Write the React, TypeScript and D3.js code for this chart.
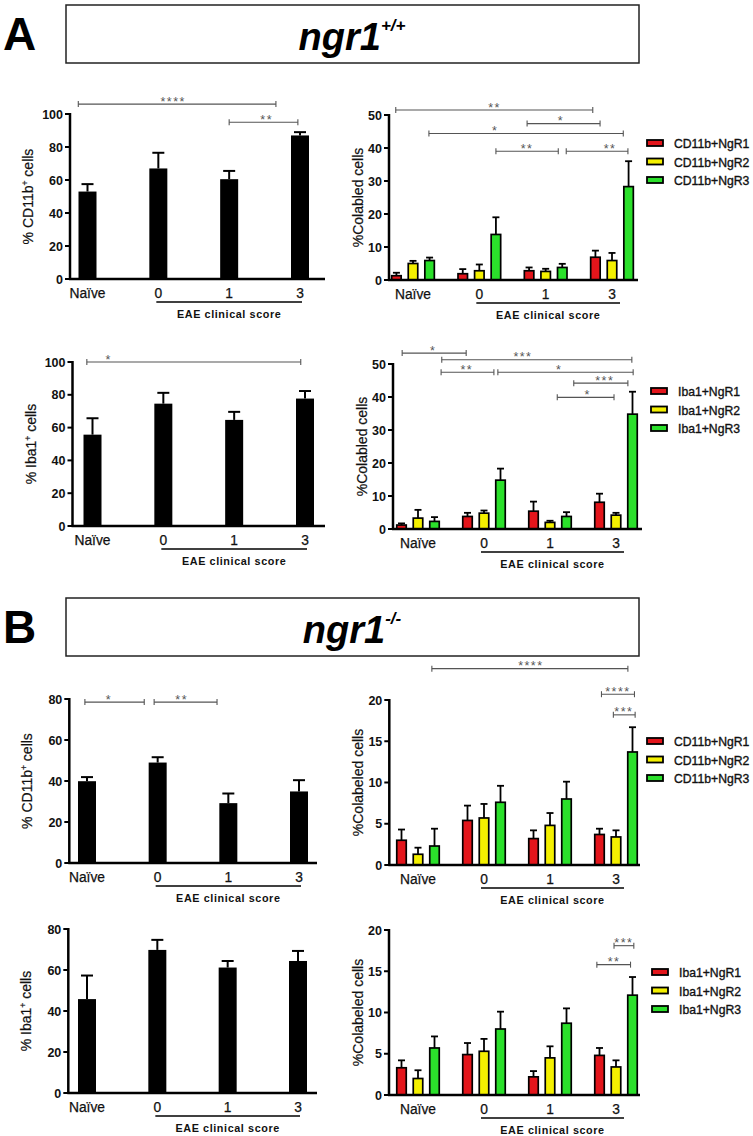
import React from "react";
import * as d3 from "d3";

// ---------- DATA ----------
const categories = ["Naïve", "0", "1", "3"];

// Panel A1: % CD11b+ cells (ngr1+/+)
const a1Mean = [53, 67, 60.5, 87];
const a1Top = [57.5, 76.5, 65.5, 89];
// Panel A3: % Iba1+ cells (ngr1+/+)
const a3Mean = [55.7, 74.6, 64.7, 77.7];
const a3Top = [65.7, 81.2, 69.6, 82.3];
// Panel B1: % CD11b+ cells (ngr1-/-)
const b1Mean = [39.9, 49, 29.2, 34.9];
const b1Top = [41.9, 51.6, 33.9, 40.4];
// Panel B3: % Iba1+ cells (ngr1-/-)
const b3Mean = [45.8, 69.8, 61.2, 64.4];
const b3Top = [57.3, 74.7, 64.4, 69.3];

// Panel A2: CD11b colabel (ngr1+/+)
const a2NgR1 = [1.3, 1.9, 2.8, 6.9];
const a2NgR1Top = [2.2, 3.3, 3.8, 8.9];
const a2NgR2 = [5.0, 2.8, 2.6, 5.9];
const a2NgR2Top = [5.8, 4.7, 3.4, 8.2];
const a2NgR3 = [5.9, 13.8, 3.8, 28.3];
const a2NgR3Top = [6.8, 19, 4.9, 36];
// Panel A4: Iba1 colabel (ngr1+/+)
const a4NgR1 = [1.2, 3.8, 5.4, 8.1];
const a4NgR1Top = [1.7, 4.9, 8.3, 10.7];
const a4NgR2 = [3.3, 4.8, 2.0, 4.2];
const a4NgR2Top = [5.8, 5.6, 2.5, 4.9];
const a4NgR3 = [2.3, 14.8, 3.8, 34.8];
const a4NgR3Top = [3.6, 18.3, 5.1, 41.6];
// Panel B2: CD11b colabel (ngr1-/-)
const b2NgR1 = [3.0, 5.4, 3.2, 3.7];
const b2NgR1Top = [4.3, 7.2, 4.2, 4.4];
const b2NgR2 = [1.3, 5.7, 4.8, 3.4];
const b2NgR2Top = [2.1, 7.4, 6.3, 4.2];
const b2NgR3 = [2.3, 7.6, 8.0, 13.7];
const b2NgR3Top = [4.4, 9.6, 10.1, 16.7];
// Panel B4: Iba1 colabel (ngr1-/-)
const b4NgR1 = [3.3, 4.9, 2.2, 4.8];
const b4NgR1Top = [4.2, 6.3, 2.9, 5.7];
const b4NgR2 = [2.0, 5.3, 4.5, 3.4];
const b4NgR2Top = [3.0, 6.8, 5.9, 4.2];
const b4NgR3 = [5.7, 8.0, 8.7, 12.1];
const b4NgR3Top = [7.1, 10.1, 10.5, 14.3];

const cd11bLegend = ["CD11b+NgR1", "CD11b+NgR2", "CD11b+NgR3"];
const iba1Legend = ["Iba1+NgR1", "Iba1+NgR2", "Iba1+NgR3"];

// significance brackets: [from, to (category index units), y value, label, label pos]
type Sig = [number, number, number, string, number];
const a1Sig: Sig[] = [
  [-0.13, 2.66, 106, "****", 1.21],
  [2.0, 2.97, 95, "**", 2.53],
];
const a2Sig: Sig[] = [
  [-0.26, 2.71, 51.5, "**", 1.23],
  [1.72, 2.82, 47.4, "*", 2.23],
  [0.24, 3.17, 44.4, "*", 1.24],
  [1.25, 2.19, 39, "**", 1.72],
  [2.31, 3.24, 39, "**", 2.97],
];
const a3Sig: Sig[] = [[-0.08, 2.94, 100, "*", 0.23]];
const a4Sig: Sig[] = [
  [-0.24, 0.73, 53.3, "*", 0.23],
  [0.36, 3.24, 51.3, "***", 1.59],
  [0.35, 1.15, 47.5, "**", 0.74],
  [1.21, 3.26, 47.5, "*", 2.14],
  [2.36, 3.18, 44.2, "***", 2.83],
  [2.11, 2.97, 39.9, "*", 2.57],
];
const b1Sig: Sig[] = [
  [-0.03, 0.81, 78.5, "*", 0.31],
  [0.95, 1.84, 78.5, "**", 1.34],
];
const b2Sig: Sig[] = [
  [0.21, 3.18, 23.8, "****", 1.71],
  [2.78, 3.28, 20.7, "****", 3.03],
  [2.96, 3.29, 18.2, "***", 3.12],
];
const b4Sig: Sig[] = [
  [2.71, 3.22, 15.8, "**", 2.97],
  [2.97, 3.27, 18.1, "***", 3.12],
];

const COLORS = ["#e3151b", "#f4f000", "#2be02b"];
const FONT = "Liberation Sans, Arial, Helvetica, sans-serif";

type SingleProps = {
  ax: number; top: number; bottom: number; right: number; first: number; last: number;
  max: number; step: number; mean: number[]; err: number[]; sig: Sig[];
  ylabel: React.ReactNode;
};

function Axes({ ax, top, bottom, right, y, ticks, ylabelX, ylabel, x, first, last, grouped }: any) {
  const lineL = x(first) - (grouped ? 3 : 2);
  const lineR = x(last) + (grouped ? 8 : 2);
  return (
    <g>
      <line x1={ax} x2={ax} y1={top - 1} y2={bottom} stroke="#000" strokeWidth={2.5} />
      <line x1={ax - 1} x2={right} y1={bottom} y2={bottom} stroke="#000" strokeWidth={2.5} />
      {ticks.map((t: number) => (
        <g key={t}>
          <line x1={ax - 5} x2={ax} y1={y(t)} y2={y(t)} stroke="#000" strokeWidth={2} />
          <text x={ax - 7} y={y(t) + 4.5} textAnchor="end" fontSize={12.5} fontWeight="bold" fontFamily={FONT} fill="#111">
            {t}
          </text>
        </g>
      ))}
      {categories.map((c) => (
        <text key={c} x={x(c)} y={bottom + 18.5} textAnchor="middle" fontSize={13.8} fontFamily={FONT} fill="#111" stroke="#111" strokeWidth={0.25}>
          {c}
        </text>
      ))}
      <line x1={lineL} x2={lineR} y1={bottom + 23} y2={bottom + 23} stroke="#000" strokeWidth={1.5} />
      <text x={(lineL + lineR) / 2} y={bottom + 39} textAnchor="middle" fontSize={10.8} fontWeight="bold" letterSpacing={0.6} fontFamily={FONT} fill="#111">
        EAE clinical score
      </text>
      <text transform={`translate(${ylabelX},${(top + bottom) / 2}) rotate(-90)`} textAnchor="middle" fontSize={14} fontFamily={FONT} fill="#111" stroke="#111" strokeWidth={0.2}>
        {ylabel}
      </text>
    </g>
  );
}

function Brackets({ sig, pos, y }: { sig: Sig[]; pos: (v: number) => number; y: (v: number) => number }) {
  return (
    <g>
      {sig.map(([a, b, v, lab, lp], i) => {
        const yy = y(v);
        return (
          <g key={i} stroke="#555" fill="#555">
            <line x1={pos(a)} x2={pos(b)} y1={yy} y2={yy} strokeWidth={1.1} />
            <line x1={pos(a)} x2={pos(a)} y1={yy - 3} y2={yy + 3} strokeWidth={1.1} />
            <line x1={pos(b)} x2={pos(b)} y1={yy - 3} y2={yy + 3} strokeWidth={1.1} />
            <text x={pos(lp)} y={yy + 1.5} textAnchor="middle" fontSize={12.5} letterSpacing={1.5} fontFamily={FONT} stroke="none">
              {lab}
            </text>
          </g>
        );
      })}
    </g>
  );
}

function SinglePanel(p: SingleProps) {
  const y = d3.scaleLinear().domain([0, p.max]).range([p.bottom, p.top]);
  const x = d3.scalePoint<string>().domain(categories).range([p.first, p.last]);
  const stepPx = (p.last - p.first) / (categories.length - 1);
  const pos = (v: number) => p.first + v * stepPx;
  const ticks = d3.range(0, p.max + 0.001, p.step);
  const bw = 18;
  return (
    <g>
      {categories.map((c, i) => (
        <g key={c}>
          <line x1={x(c)!} x2={x(c)!} y1={y(p.mean[i])} y2={y(p.err[i])} stroke="#000" strokeWidth={2} />
          <line x1={x(c)! - 6} x2={x(c)! + 6} y1={y(p.err[i])} y2={y(p.err[i])} stroke="#000" strokeWidth={2} />
          <rect x={x(c)! - bw / 2} y={y(p.mean[i])} width={bw} height={p.bottom - y(p.mean[i])} fill="#000" />
        </g>
      ))}
      <Axes ax={p.ax} top={p.top} bottom={p.bottom} right={p.right} y={y} ticks={ticks} ylabelX={p.ax - 37} ylabel={p.ylabel} x={x} first={categories[1]} last={categories[3]} grouped={false} />
      <Brackets sig={p.sig} pos={pos} y={y} />
    </g>
  );
}

type GroupProps = {
  ax: number; top: number; bottom: number; right: number; first: number; last: number;
  max: number; step: number; series: number[][]; errs: number[][]; sig: Sig[];
  legend: string[]; legX: number; legY: number; ylabel: string;
};

function GroupPanel(p: GroupProps) {
  const y = d3.scaleLinear().domain([0, p.max]).range([p.bottom, p.top]);
  const x = d3.scalePoint<string>().domain(categories).range([p.first, p.last]);
  const stepPx = (p.last - p.first) / (categories.length - 1);
  const pos = (v: number) => p.first + v * stepPx;
  const inner = d3.scalePoint<number>().domain([0, 1, 2]).range([-stepPx * 0.25, stepPx * 0.25]);
  const ticks = d3.range(0, p.max + 0.001, p.step);
  const bw = 9.5;
  return (
    <g>
      {categories.map((c, i) => (
        <g key={c}>
          {p.series.map((s, k) => {
            const cx = x(c)! + inner(k)!;
            return (
              <g key={k}>
                <line x1={cx} x2={cx} y1={y(s[i])} y2={y(p.errs[k][i])} stroke="#000" strokeWidth={1.8} />
                <line x1={cx - 3.5} x2={cx + 3.5} y1={y(p.errs[k][i])} y2={y(p.errs[k][i])} stroke="#000" strokeWidth={1.8} />
                <rect x={cx - bw / 2} y={y(s[i])} width={bw} height={Math.max(0, p.bottom - y(s[i]))} fill={COLORS[k]} stroke="#000" strokeWidth={1.7} />
              </g>
            );
          })}
        </g>
      ))}
      <Axes ax={p.ax} top={p.top} bottom={p.bottom} right={p.right} y={y} ticks={ticks} ylabelX={p.ax - 26} ylabel={p.ylabel} x={x} first={categories[1]} last={categories[3]} grouped={true} />
      <Brackets sig={p.sig} pos={pos} y={y} />
      {p.legend.map((l, k) => (
        <g key={l}>
          <rect x={p.legX} y={p.legY + k * 18.5 - 3} width={16} height={6} fill={COLORS[k]} stroke="#000" strokeWidth={1.8} />
          <text x={p.legX + 27} y={p.legY + k * 18.5 + 5} fontSize={12.2} fontFamily={FONT} fill="#111" stroke="#111" strokeWidth={0.35}>
            {l}
          </text>
        </g>
      ))}
    </g>
  );
}

function Header({ y0, letter, sup }: { y0: number; letter: string; sup: string }) {
  return (
    <g>
      <text x={3} y={y0 + 46} fontSize={46} fontWeight="900" fontFamily={FONT} fill="#000">
        {letter}
      </text>
      <rect x={66} y={y0 + 1} width={573} height={58} fill="#fff" stroke="#222" strokeWidth={1.5} />
      <text x={352} y={y0 + 46} textAnchor="middle" fontFamily={FONT} fill="#000" fontWeight="bold" fontStyle="italic">
        <tspan fontSize={38}>ngr1</tspan>
        <tspan fontSize={17} dy={-19}>{sup}</tspan>
      </text>
    </g>
  );
}

const cd11bLabel = (
  <>
    % CD11b<tspan fontSize={8.5} dy={-5}>+</tspan>
    <tspan dy={5}> cells</tspan>
  </>
);
const iba1Label = (
  <>
    % Iba1<tspan fontSize={8.5} dy={-5}>+</tspan>
    <tspan dy={5}> cells</tspan>
  </>
);

export default function App() {
  return (
    <svg width={753} height={1136} style={{ position: "absolute", left: 0, top: 0, background: "#fff" }}>
      <rect width={753} height={1136} fill="#fff" />
      <Header y0={4} letter="A" sup="+/+" />
      <Header y0={597} letter="B" sup="-/-" />

      <SinglePanel ax={70} top={114} bottom={279} right={325} first={87.5} last={300} max={100} step={20}
        mean={a1Mean} err={a1Top} sig={a1Sig} ylabel={cd11bLabel} />
      <GroupPanel ax={389} top={115} bottom={280} right={638} first={413} last={612} max={50} step={10}
        series={[a2NgR1, a2NgR2, a2NgR3]} errs={[a2NgR1Top, a2NgR2Top, a2NgR3Top]} sig={a2Sig}
        legend={cd11bLegend} legX={647} legY={143} ylabel="%Colabled cells" />

      <SinglePanel ax={72.5} top={362} bottom={526} right={325} first={92.5} last={305} max={100} step={20}
        mean={a3Mean} err={a3Top} sig={a3Sig} ylabel={iba1Label} />
      <GroupPanel ax={393} top={364} bottom={529} right={642} first={418} last={616} max={50} step={10}
        series={[a4NgR1, a4NgR2, a4NgR3]} errs={[a4NgR1Top, a4NgR2Top, a4NgR3Top]} sig={a4Sig}
        legend={iba1Legend} legX={651} legY={391} ylabel="%Colabled cells" />

      <SinglePanel ax={69.3} top={699} bottom={863} right={317} first={87} last={299} max={80} step={20}
        mean={b1Mean} err={b1Top} sig={b1Sig} ylabel={cd11bLabel} />
      <GroupPanel ax={389.3} top={700} bottom={865} right={640} first={418} last={616} max={20} step={5}
        series={[b2NgR1, b2NgR2, b2NgR3]} errs={[b2NgR1Top, b2NgR2Top, b2NgR3Top]} sig={b2Sig}
        legend={cd11bLegend} legX={647} legY={741} ylabel="%Colabeled cells" />

      <SinglePanel ax={68.3} top={929} bottom={1093} right={317} first={87} last={298} max={80} step={20}
        mean={b3Mean} err={b3Top} sig={[]} ylabel={iba1Label} />
      <GroupPanel ax={389} top={930} bottom={1095} right={640} first={418} last={616} max={20} step={5}
        series={[b4NgR1, b4NgR2, b4NgR3]} errs={[b4NgR1Top, b4NgR2Top, b4NgR3Top]} sig={b4Sig}
        legend={iba1Legend} legX={652} legY={972} ylabel="%Colabeled cells" />
    </svg>
  );
}
